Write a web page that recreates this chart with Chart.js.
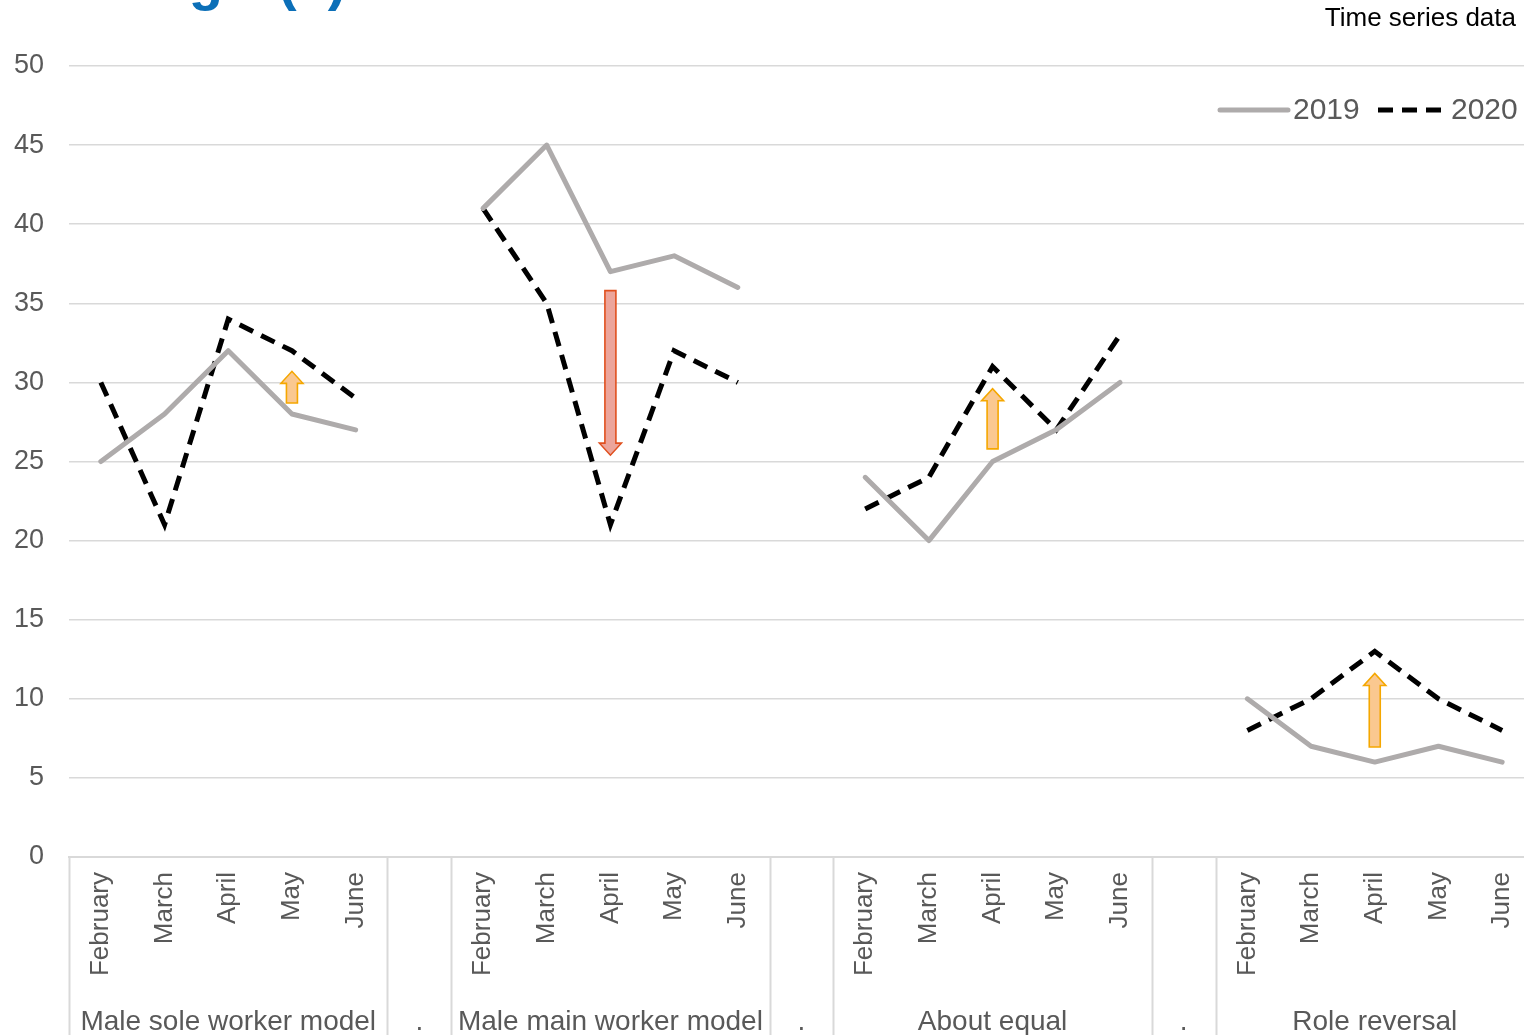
<!DOCTYPE html>
<html>
<head>
<meta charset="utf-8">
<title>Working arrangements, 2019 and 2020</title>
<script src="https://cdn.jsdelivr.net/npm/chart.js@4/dist/chart.umd.min.js"></script>
<style>
  html, body { margin: 0; padding: 0; background: #ffffff; overflow: hidden; }
  /* the plot runs slightly past the right edge of the visible frame */
  #wrap { position: relative; width: 1524px; height: 1035px; overflow: hidden; }
  #chart { display: block; }
</style>
</head>
<body>
<div id="wrap"><canvas id="chart" width="1534" height="1035"></canvas></div>
<script>
// ---- data ----------------------------------------------------------------
const months = ['February', 'March', 'April', 'May', 'June'];
const groups = ['Male sole worker model', 'Male main worker model', 'About equal', 'Role reversal'];
const spacerLabel = '.';
const yTicks = [0, 5, 10, 15, 20, 25, 30, 35, 40, 45, 50];

const values2019 = [
  [25, 28, 32, 28, 27],
  [41, 45, 37, 38, 36],
  [24, 20, 25, 27, 30],
  [10, 7, 6, 7, 6]
];
const values2020 = [
  [30, 21, 34, 32, 29],
  [41, 35, 21, 32, 30],
  [22, 24, 31, 27, 33],
  [8, 10, 13, 10, 8]
];

// change arrows: group, month, start value, end value
const arrowGroup = [0, 1, 2, 3];
const arrowMonth = ['May', 'April', 'April', 'April'];
const arrowFrom = [28.7, 35.8, 25.8, 6.95];
const arrowTo = [30.7, 25.4, 29.6, 11.6];

const headingText = 'Working';
const headingNote = '(a)';
const sourceNote = 'Time series data';

// ---- flatten groups into one category axis with a spacer between groups ---
const labels = [];
const data2019 = [];
const data2020 = [];
const groupSpans = [];   // [firstIndex, lastIndex] per group
const spacerIndex = [];
groups.forEach((g, gi) => {
  const start = labels.length;
  months.forEach((m, mi) => {
    labels.push(m);
    data2019.push(values2019[gi][mi]);
    data2020.push(values2020[gi][mi]);
  });
  groupSpans.push([start, labels.length - 1]);
  if (gi < groups.length - 1) {
    spacerIndex.push(labels.length);
    labels.push('');
    data2019.push(null);
    data2020.push(null);
  }
});

const FONT = "'Liberation Sans', Arial, sans-serif";
const GREY_TEXT = '#595959';
const GRID = '#d9d9d9';

// ---- drawing helpers ------------------------------------------------------
function drawArrow(ctx, x, y0, y1, shaftW, headW, headL, fill, stroke) {
  const dir = y1 < y0 ? -1 : 1;
  const neck = y1 - dir * headL;
  ctx.save();
  ctx.beginPath();
  ctx.moveTo(x - shaftW / 2, y0);
  ctx.lineTo(x - shaftW / 2, neck);
  ctx.lineTo(x - headW / 2, neck);
  ctx.lineTo(x, y1);
  ctx.lineTo(x + headW / 2, neck);
  ctx.lineTo(x + shaftW / 2, neck);
  ctx.lineTo(x + shaftW / 2, y0);
  ctx.closePath();
  ctx.fillStyle = fill;
  ctx.fill();
  ctx.lineWidth = 1.6;
  ctx.lineJoin = 'miter';
  ctx.strokeStyle = stroke;
  ctx.stroke();
  ctx.restore();
}

const decorations = {
  id: 'decorations',
  afterDatasetsDraw(chart) {
    const { ctx, scales: { x, y } } = chart;
    arrowGroup.forEach((g, i) => {
      const idx = groupSpans[g][0] + months.indexOf(arrowMonth[i]);
      const px = x.getPixelForValue(idx);
      const up = arrowTo[i] > arrowFrom[i];
      drawArrow(ctx, px, y.getPixelForValue(arrowFrom[i]), y.getPixelForValue(arrowTo[i]),
        11, 22, 12,
        up ? '#fac890' : '#eca59b',
        up ? '#f5a700' : '#e0501f');
    });
  },
  afterDraw(chart) {
    const { ctx, scales: { x, y } } = chart;
    const step = (x.right - x.left) / labels.length;
    const top = x.top;
    const bottom = chart.height;

    // separators of the grouped category axis
    const edges = [0];
    groupSpans.forEach(([a, b]) => { edges.push(a); edges.push(b + 1); });
    ctx.save();
    ctx.strokeStyle = GRID;
    ctx.lineWidth = 2;
    [...new Set(edges)].forEach(i => {
      if (i >= labels.length) return;
      const ex = Math.round(x.left + i * step) + 0.5;
      ctx.beginPath();
      ctx.moveTo(ex, top);
      ctx.lineTo(ex, bottom);
      ctx.stroke();
    });

    // group names and spacer marks
    ctx.fillStyle = GREY_TEXT;
    ctx.font = '28px ' + FONT;
    ctx.textAlign = 'center';
    ctx.textBaseline = 'alphabetic';
    groupSpans.forEach(([a, b], gi) => {
      const cx = (x.getPixelForValue(a) + x.getPixelForValue(b)) / 2;
      ctx.fillText(groups[gi], cx, 1030);
    });
    spacerIndex.forEach(i => ctx.fillText(spacerLabel, x.getPixelForValue(i), 1030));

    // legend
    const ds = chart.data.datasets;
    const ly = 110;
    const items = [
      { d: ds[0], x0: 1220, x1: 1288, tx: 1293 },
      { d: ds[1], x0: 1378, x1: 1441, tx: 1451 }
    ];
    ctx.font = '30px ' + FONT;
    ctx.textAlign = 'left';
    ctx.textBaseline = 'middle';
    items.forEach(it => {
      ctx.save();
      ctx.strokeStyle = it.d.borderColor;
      ctx.lineWidth = it.d.borderWidth;
      ctx.lineCap = it.d.borderDash ? 'butt' : 'round';
      ctx.setLineDash(it.d.borderDash || []);
      ctx.beginPath();
      ctx.moveTo(it.x0, ly);
      ctx.lineTo(it.x1, ly);
      ctx.stroke();
      ctx.restore();
      ctx.fillStyle = GREY_TEXT;
      ctx.fillText(it.d.label, it.tx, ly + 1);
    });

    // heading (cut at the top edge) and note
    ctx.fillStyle = '#0b6fb8';
    ctx.font = 'bold 56px ' + FONT;
    ctx.textBaseline = 'alphabetic';
    ctx.textAlign = 'left';
    ctx.fillText(headingText, 0, -1);
    ctx.fillText(headingNote, 278, -1);

    ctx.fillStyle = '#000000';
    ctx.font = '26px ' + FONT;
    ctx.textAlign = 'right';
    ctx.textBaseline = 'middle';
    ctx.fillText(sourceNote, 1516, 19);
    ctx.restore();
  }
};

// ---- chart ---------------------------------------------------------------
new Chart(document.getElementById('chart'), {
  type: 'line',
  data: {
    labels: labels,
    datasets: [
      {
        label: '2019',
        data: data2019,
        borderColor: '#aeabab',
        borderWidth: 5,
        borderJoinStyle: 'round',
        borderCapStyle: 'round',
        pointRadius: 0,
        tension: 0,
        spanGaps: false
      },
      {
        label: '2020',
        data: data2020,
        borderColor: '#000000',
        borderWidth: 5,
        borderDash: [15, 9],
        borderJoinStyle: 'miter',
        pointRadius: 0,
        tension: 0,
        spanGaps: false
      }
    ]
  },
  options: {
    responsive: false,
    animation: false,
    events: [],
    layout: { padding: { top: 66, right: 0, bottom: 0, left: 0 } },
    plugins: {
      legend: { display: false },
      tooltip: { enabled: false },
      title: { display: false }
    },
    scales: {
      x: {
        type: 'category',
        offset: true,
        grid: { display: false },
        border: { display: true, color: GRID, width: 2 },
        ticks: {
          autoSkip: false,
          minRotation: 90,
          maxRotation: 90,
          padding: 7,
          color: GREY_TEXT,
          font: { family: FONT, size: 26 }
        },
        afterFit(s) {
          s.height = 178;
          s.paddingLeft = 0;
          s.paddingRight = 0;
        }
      },
      y: {
        min: 0,
        max: 50,
        afterBuildTicks(s) { s.ticks = yTicks.map(v => ({ value: v })); },
        grid: { color: GRID, lineWidth: 1.5, drawTicks: false },
        border: { display: false },
        ticks: {
          padding: 25,
          color: GREY_TEXT,
          font: { family: FONT, size: 27 }
        },
        afterFit(s) {
          s.width = 69;
          s.paddingTop = 0;
          s.paddingBottom = 0;
        }
      }
    }
  },
  plugins: [decorations]
});
</script>
</body>
</html>
